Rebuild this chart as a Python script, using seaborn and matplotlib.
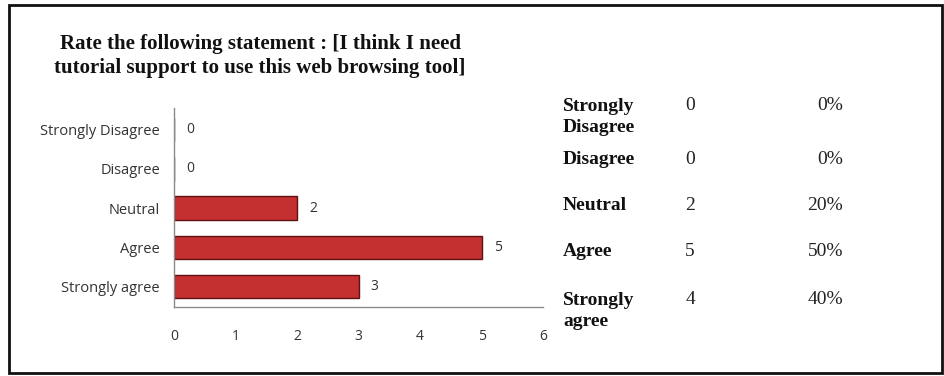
import numpy as np
import pandas as pd
import seaborn as sns
import matplotlib.pyplot as plt
from matplotlib.patches import Rectangle

# Datos del gráfico
categorias = ["Strongly Disagree", "Disagree", "Neutral", "Agree", "Strongly agree"]
respuestas = [0, 0, 2, 5, 3]

# Datos de la tabla de la derecha
tabla_etiquetas = ["Strongly\nDisagree", "Disagree", "Neutral", "Agree", "Strongly\nagree"]
tabla_cuentas = ["0", "0", "2", "5", "4"]
tabla_porcentajes = ["0%", "0%", "20%", "50%", "40%"]

titulo = "Rate the following statement : [I think I need\ntutorial support to use this web browsing tool]"

df = pd.DataFrame({"Respuesta": categorias, "Cantidad": respuestas})

sns.set_theme(style="white")
plt.rcParams["font.family"] = ["Open Sans", "DejaVu Sans"]
serif = ["Liberation Serif", "DejaVu Serif"]

fig = plt.figure(figsize=(9.44, 3.76), dpi=100)
ax = fig.add_axes([0.1843, 0.1835, 0.391, 0.529])

sns.barplot(data=df, x="Cantidad", y="Respuesta", orient="h", ax=ax,
            color="#c4302f", edgecolor="#5e1012", linewidth=1.0, width=0.6,
            saturation=1)

# Etiquetas de valor al final de cada barra
for i, v in enumerate(respuestas):
    ax.text(v + 0.2, i, str(v), va="center", ha="left", fontsize=10,
            color="#333333")

ax.set_xlim(0, 6)
ax.set_ylim(4.52, -0.55)
ax.set_xticks(range(0, 7))
ax.set_xlabel("")
ax.set_ylabel("")
ax.tick_params(axis="x", length=0, pad=16, labelsize=10, colors="#333333")
ax.tick_params(axis="y", length=0, pad=10, labelsize=10.5, colors="#333333")
for lado in ["top", "right"]:
    ax.spines[lado].set_visible(False)
for lado in ["left", "bottom"]:
    ax.spines[lado].set_color("#8a8a8a")
    ax.spines[lado].set_linewidth(1.0)

# Título en serif negrita
fig.text(0.2755, 0.851, titulo, ha="center", va="center", fontsize=15,
         fontweight="bold", family=serif, linespacing=1.3, color="#111111")

# Tabla de la derecha
filas_y = [117, 160, 206, 252, 311]
for etiqueta, cuenta, pct, y in zip(tabla_etiquetas, tabla_cuentas,
                                    tabla_porcentajes, filas_y):
    yf = 1 - y / 376
    fig.text(563 / 944, yf, etiqueta, ha="left", va="center", fontsize=14,
             fontweight="bold", family=serif, linespacing=1.25,
             color="#111111")
    y_num = yf + (0.031 if "\n" in etiqueta else 0)
    fig.text(690 / 944, y_num, cuenta, ha="center", va="center", fontsize=14,
             family=serif, color="#222222")
    fig.text(843 / 944, y_num, pct, ha="right", va="center", fontsize=14,
             family=serif, color="#222222")

# Marco exterior
fig.patches.append(Rectangle((9 / 944, 1 - 373 / 376), 933 / 944, 368 / 376,
                             transform=fig.transFigure, fill=False,
                             edgecolor="#111111", linewidth=2.0))

fig.savefig("out.png", dpi=100)
